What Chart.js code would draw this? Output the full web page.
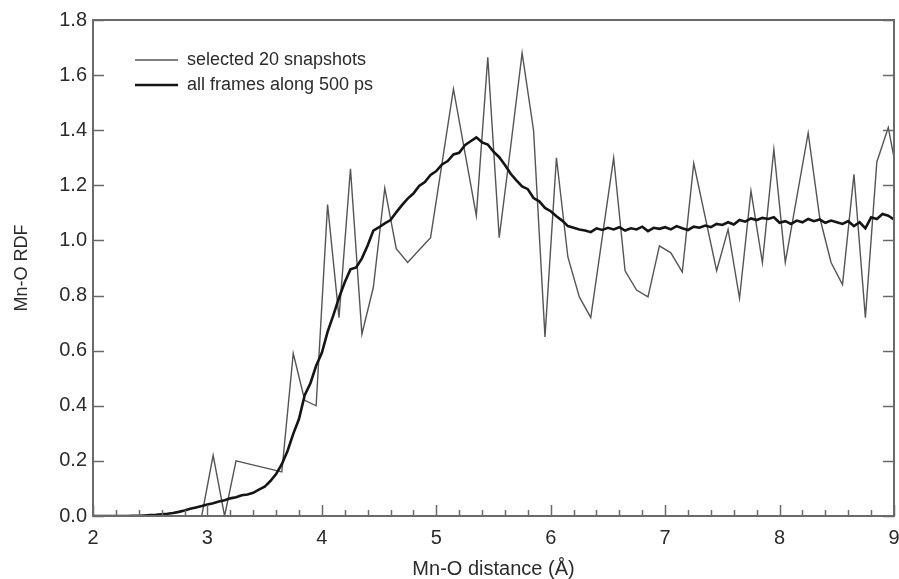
<!DOCTYPE html>
<html>
<head>
<meta charset="utf-8">
<script src="https://cdn.jsdelivr.net/npm/chart.js@4.4.1/dist/chart.umd.min.js"></script>
<style>
  html, body { margin: 0; padding: 0; background: #ffffff; }
  #wrap { width: 899px; height: 579px; }
</style>
</head>
<body>
<div id="wrap"><canvas id="c" width="899" height="579"></canvas></div>
<script>
// ---- Data ----
const seriesLabels = ["selected 20 snapshots", "all frames along 500 ps"];
const xTickValues = [2, 3, 4, 5, 6, 7, 8, 9];
const yTickValues = [0, 0.2, 0.4, 0.6, 0.8, 1.0, 1.2, 1.4, 1.6, 1.8];

// selected 20 snapshots: r (Å)
const snapR = [2.05, 2.15, 2.25, 2.35, 2.45, 2.55, 2.65, 2.75, 2.85, 2.95,
  3.05, 3.15, 3.25, 3.35, 3.45, 3.55, 3.65, 3.75, 3.85, 3.95,
  4.05, 4.15, 4.25, 4.35, 4.45, 4.55, 4.65, 4.75, 4.85, 4.95,
  5.05, 5.15, 5.25, 5.35, 5.45, 5.55, 5.65, 5.75, 5.85, 5.95,
  6.05, 6.15, 6.25, 6.35, 6.45, 6.55, 6.65, 6.75, 6.85, 6.95,
  7.05, 7.15, 7.25, 7.35, 7.45, 7.55, 7.65, 7.75, 7.85, 7.95,
  8.05, 8.15, 8.25, 8.35, 8.45, 8.55, 8.65, 8.75, 8.85, 8.95, 9.05];
// selected 20 snapshots: g(r)
const snapG = [0, 0, 0, 0, 0, 0, 0, 0, 0, 0,
  0.22, 0.00, 0.20, 0.19, 0.18, 0.17, 0.16, 0.59, 0.42, 0.40,
  1.13, 0.72, 1.26, 0.66, 0.83, 1.19, 0.97, 0.92, 0.965, 1.01,
  1.28, 1.55, 1.32, 1.09, 1.665, 1.01, 1.34, 1.68, 1.40, 0.65,
  1.30, 0.94, 0.795, 0.72, 1.01, 1.30, 0.89, 0.82, 0.795, 0.98,
  0.955, 0.885, 1.28, 1.085, 0.89, 1.04, 0.79, 1.18, 0.92, 1.33,
  0.92, 1.155, 1.39, 1.085, 0.92, 0.84, 1.24, 0.72, 1.285, 1.41, 1.19];

// all frames along 500 ps: r from 2.00 to 9.00 in 0.05 Å bins
const allStart = 2.0;
const allStep = 0.05;
const allG = [
  0, 0, 0, 0, 0, 0, 0, 0.001, 0.001, 0.002,
  0.003, 0.004, 0.006, 0.008, 0.011, 0.015, 0.020, 0.026, 0.031, 0.036,
  0.042, 0.046, 0.053, 0.057, 0.064, 0.068, 0.075, 0.078, 0.084, 0.096,
  0.106, 0.127, 0.152, 0.188, 0.236, 0.298, 0.352, 0.438, 0.482, 0.545,
  0.592, 0.668, 0.728, 0.792, 0.848, 0.895, 0.902, 0.935, 0.982, 1.036,
  1.048, 1.062, 1.074, 1.102, 1.128, 1.152, 1.170, 1.198, 1.212, 1.238,
  1.252, 1.276, 1.288, 1.312, 1.318, 1.346, 1.360, 1.374, 1.356, 1.348,
  1.322, 1.302, 1.274, 1.242, 1.218, 1.196, 1.186, 1.154, 1.142, 1.118,
  1.106, 1.088, 1.072, 1.052, 1.046, 1.040, 1.036, 1.030, 1.044, 1.038,
  1.046, 1.040, 1.048, 1.036, 1.044, 1.040, 1.050, 1.034, 1.046, 1.042,
  1.048, 1.040, 1.052, 1.044, 1.038, 1.050, 1.046, 1.054, 1.048, 1.060,
  1.056, 1.066, 1.058, 1.074, 1.068, 1.080, 1.074, 1.082, 1.078, 1.084,
  1.064, 1.070, 1.060, 1.072, 1.066, 1.078, 1.070, 1.076, 1.064, 1.072,
  1.066, 1.060, 1.070, 1.052, 1.066, 1.044, 1.084, 1.078, 1.096, 1.090,
  1.076];

// ---- Build ----
const snapPts = snapR.map((r, i) => ({ x: r, y: snapG[i] }));
const allPts = allG.map((g, i) => ({ x: +(allStart + i * allStep).toFixed(2), y: g }));

const FONT = "'Liberation Sans', Arial, Helvetica, sans-serif";
const AXIS_COLOR = '#6a6a6a';
const TEXT_COLOR = '#2b2b2b';
const THIN_COLOR = '#555555';
const THICK_COLOR = '#151515';

const framePlugin = {
  id: 'frameTicks',
  afterDraw(chart) {
    const ctx = chart.ctx;
    const ca = chart.chartArea;
    const xs = chart.scales.x, ys = chart.scales.y;
    ctx.save();
    ctx.strokeStyle = AXIS_COLOR;
    ctx.lineWidth = 1.5;
    // minor & major ticks on x (inward from bottom)
    for (let k = 0; k <= 35; k++) {
      const v = 2 + k * 0.2;
      const px = Math.round(xs.getPixelForValue(v)) + 0.5;
      const major = (k % 5 === 0);
      const len = major ? 11 : 6;
      ctx.beginPath();
      ctx.moveTo(px, ca.bottom);
      ctx.lineTo(px, ca.bottom - len);
      ctx.stroke();
    }
    // y ticks both sides (inward)
    yTickValues.forEach(v => {
      const py = Math.round(ys.getPixelForValue(v)) + 0.5;
      ctx.beginPath();
      ctx.moveTo(ca.left, py); ctx.lineTo(ca.left + 11, py);
      ctx.moveTo(ca.right, py); ctx.lineTo(ca.right - 11, py);
      ctx.stroke();
    });
    // frame
    ctx.lineWidth = 2;
    ctx.strokeRect(ca.left, ca.top, ca.right - ca.left, ca.bottom - ca.top);
    // legend
    const items = [
      { label: seriesLabels[0], color: THIN_COLOR, w: 1.4, y: 60 },
      { label: seriesLabels[1], color: THICK_COLOR, w: 2.6, y: 85 }
    ];
    ctx.font = '18px ' + FONT;
    ctx.textBaseline = 'middle';
    ctx.textAlign = 'left';
    items.forEach(it => {
      ctx.strokeStyle = it.color;
      ctx.lineWidth = it.w;
      ctx.beginPath();
      ctx.moveTo(135, it.y); ctx.lineTo(178, it.y);
      ctx.stroke();
      ctx.fillStyle = TEXT_COLOR;
      ctx.fillText(it.label, 187, it.y);
    });
    ctx.restore();
  }
};

new Chart(document.getElementById('c'), {
  type: 'line',
  data: {
    datasets: [
      {
        label: seriesLabels[0],
        data: snapPts,
        borderColor: THIN_COLOR,
        borderWidth: 1.4,
        pointRadius: 0,
        tension: 0,
        order: 1
      },
      {
        label: seriesLabels[1],
        data: allPts,
        borderColor: THICK_COLOR,
        borderWidth: 2.6,
        pointRadius: 0,
        tension: 0,
        order: 0
      }
    ]
  },
  options: {
    responsive: false,
    animation: false,
    events: [],
    layout: { padding: { top: 20, right: 5, left: 0, bottom: 0 } },
    plugins: { legend: { display: false }, tooltip: { enabled: false } },
    scales: {
      x: {
        type: 'linear',
        min: 2, max: 9,
        afterBuildTicks: (s) => { s.ticks = xTickValues.map(v => ({ value: v })); },
        ticks: { color: TEXT_COLOR, font: { family: FONT, size: 20 }, padding: 10, maxRotation: 0,
                 callback: (v) => String(v) },
        grid: { display: false, drawTicks: false },
        border: { display: false },
        title: { display: true, text: 'Mn-O distance (Å)', color: TEXT_COLOR,
                 font: { family: FONT, size: 20 }, padding: { top: 0, bottom: -2 } },
        afterFit: (s) => { s.height = 63; s.paddingLeft = 0; s.paddingRight = 0; }
      },
      y: {
        type: 'linear',
        min: 0, max: 1.8,
        afterBuildTicks: (s) => { s.ticks = yTickValues.map(v => ({ value: v })); },
        ticks: { color: TEXT_COLOR, font: { family: FONT, size: 20 }, padding: 6,
                 callback: (v) => Number(v).toFixed(1) },
        grid: { display: false, drawTicks: false },
        border: { display: false },
        title: { display: true, text: 'Mn-O RDF', color: TEXT_COLOR,
                 font: { family: FONT, size: 18 }, padding: { top: 11, bottom: 0 } },
        afterFit: (s) => { s.width = 93; s.paddingTop = 0; s.paddingBottom = 0; }
      }
    }
  },
  plugins: [framePlugin]
});
</script>
</body>
</html>
